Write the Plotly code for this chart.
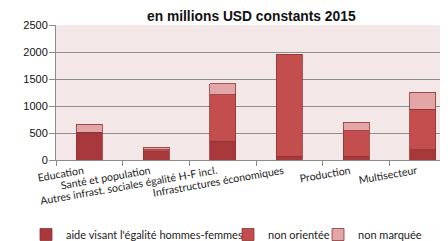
import plotly.graph_objects as go

categories = ["Education", "Santé et population", "Autres infrast. sociales égalité H-F incl.",
              "Infrastructures économiques", "Production", "Multisecteur"]
aide_egalite = [490, 150, 350, 65, 65, 192]
non_orientee = [20, 40, 860, 1880, 476, 751]
non_marquee = [148, 45, 200, 10, 159, 309]

title_text = "en millions USD constants 2015"
series_names = ["aide visant l'égalité hommes-femmes", "non orientée", "non marquée"]
colors = ["#A8383B", "#C44E4D", "#E2A6A7"]
legend_ids = ["legend", "legend2", "legend3"]
legend_x = [-0.075, 0.43, 0.655]

fig = go.Figure()
for name, vals, col, lg in zip(series_names, [aide_egalite, non_orientee, non_marquee], colors, legend_ids):
    fig.add_bar(x=categories, y=vals, name=name, legend=lg,
                marker=dict(color=col, line=dict(color="#8E3535", width=0.8)))

legend_style = dict(orientation="h", xref="paper", yref="paper", xanchor="left",
                    y=-0.555, yanchor="middle", font=dict(family="Lato", size=11, color="#222"),
                    itemwidth=30, bgcolor="rgba(0,0,0,0)", borderwidth=0)

fig.add_annotation(text="<b>" + title_text + "</b>", xref="paper", yref="paper",
                   x=0.4875, y=1.066, xanchor="center", yanchor="middle", showarrow=False,
                   font=dict(family="Liberation Sans", size=13.8, color="#111"))

fig.update_layout(
    barmode="stack",
    bargap=0.61,
    width=448, height=241,
    margin=dict(l=48, r=0, t=17, b=81),
    paper_bgcolor="white",
    plot_bgcolor="#F4E7E7",
    showlegend=True,
    legend=dict(x=legend_x[0], **legend_style),
    legend2=dict(x=legend_x[1], **legend_style),
    legend3=dict(x=legend_x[2], **legend_style),
    font=dict(family="Lato", size=10, color="#222"),
)
fig.update_yaxes(range=[0, 2500], tickvals=[0, 500, 1000, 1500, 2000, 2500], automargin=False,
                 showgrid=True, gridcolor="#8C8C8C", gridwidth=1,
                 showline=True, linecolor="#8C8C8C", ticks="outside", ticklen=6, tickcolor="#8C8C8C",
                 ticklabelstandoff=-1,
                 tickfont=dict(family="Liberation Sans", size=11, color="#111"), zeroline=False)
fig.update_xaxes(tickangle=-10, showline=True, linecolor="#8C8C8C", ticks="outside", ticklen=5,
                 tickcolor="#8C8C8C", tickson="boundaries", automargin=False, ticklabelshift=-6,
                 tickfont=dict(family="Lato", size=10.6, color="#222"))

fig.write_html("out.html")
